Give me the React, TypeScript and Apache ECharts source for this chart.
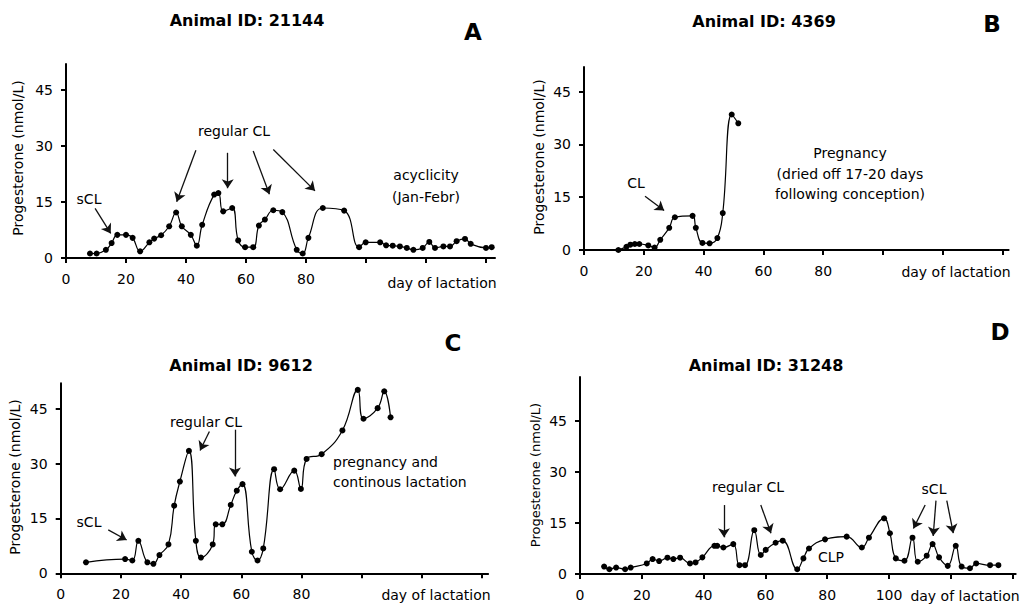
import React, { useEffect, useRef } from "react";
import * as echarts from "echarts";

// ---- tick values ----
const xTicks = [0, 20, 40, 60, 80, 100, 120, 140];
const yTicks = [0, 15, 30, 45];
const xLabelsABC = [0, 20, 40, 60, 80];
const xLabelsD = [0, 20, 40, 60, 80, 100];

// ---- Panel A: Animal 21144 ----
const daysA = [8, 10.2, 13.3, 15.2, 17.1, 20, 22.2, 24.7, 27.8, 29.4, 31.7, 34.4, 36.7, 38.6, 41.6, 43.6, 45.4, 49.4, 50.8, 52.4, 55.4, 57.4, 59.7, 62.4, 64.3, 66.3, 69.1, 72.1, 76.9, 78.9, 80.8, 85.6, 92.7, 97.7, 99.9, 104.7, 106.7, 108.9, 111.3, 113.6, 115.8, 118.9, 121.1, 123, 125.8, 128, 130.2, 133, 134.9, 140, 141.9];
const progA = [1.2, 1.2, 2.2, 4, 6.2, 6.2, 5.4, 1.8, 4.2, 5.2, 6.1, 8.5, 12.2, 8.5, 6.2, 3.3, 8.9, 17, 17.4, 12.5, 13.4, 4.7, 2.9, 2.9, 8.7, 10.3, 12.8, 12.3, 2.2, 1.2, 5.4, 13.4, 12.7, 2.9, 4.2, 4.2, 3.4, 3.3, 3.1, 2.7, 2.2, 2.7, 4.3, 2.7, 3.1, 3.1, 4.5, 5.1, 3.8, 2.7, 2.9];

// ---- Panel B: Animal 4369 ----
const daysB = [11.5, 14.2, 15.5, 17, 18.5, 21.5, 23.6, 25.5, 28.5, 30.4, 36.3, 37.4, 39.6, 42, 44.6, 46.4, 49.4, 51.6];
const progB = [0, 0.9, 1.5, 1.7, 1.7, 1.3, 0.7, 2.9, 6.3, 9.3, 9.7, 6.3, 2, 1.9, 3.4, 10.5, 38.5, 36];

// ---- Panel C: Animal 9612 ----
const daysC = [8.4, 21.4, 23.8, 25.8, 28.8, 30.8, 32.8, 35.8, 37.7, 39.6, 42.6, 44.9, 46.6, 50.5, 51.5, 53.7, 56.5, 58.5, 60.4, 63.5, 65.4, 67.3, 70.9, 72.9, 77.6, 79.8, 81.7, 86.7, 93.6, 98.7, 100.6, 105.3, 107.5, 109.6];
const progC = [3, 3.9, 3.5, 8.9, 3, 2.6, 5, 7.9, 18.5, 25.1, 33.5, 8.9, 4.3, 7.9, 13.4, 13.4, 18.7, 22.6, 24.4, 5.9, 3.5, 6.8, 28.5, 23, 28.1, 23.1, 31.3, 32.6, 39.1, 50.2, 42.3, 45.2, 49.8, 42.7];

// ---- Panel D: Animal 31248 ----
const daysD = [7.8, 9.5, 11.7, 14.6, 16.4, 21.6, 23.5, 25.6, 28.3, 30.2, 32.4, 35.6, 37.4, 39.6, 43.5, 44.4, 46.4, 49.6, 51.6, 53.4, 56.4, 58.5, 60.1, 63.3, 65.6, 70.3, 72.3, 74.1, 79.3, 86.3, 91.2, 93.5, 98.4, 100.3, 102.2, 105, 107.6, 109.3, 112.2, 114.1, 116.2, 119, 121.6, 123.5, 126.2, 128.2, 132.7, 135.4];
const progD = [2.2, 1.4, 1.9, 1.4, 1.9, 3.1, 4.4, 3.8, 4.8, 4.4, 4.8, 3.1, 3.4, 4.9, 8.3, 8.3, 7.8, 8.8, 2.6, 2.6, 12.9, 5.6, 7.1, 9.2, 9.8, 1.4, 4.6, 7.5, 10.2, 11, 7.8, 10.7, 16.4, 12, 4.6, 3.9, 10.7, 3.6, 5.4, 8.8, 4.9, 2.4, 8.3, 2.2, 1.7, 3.1, 2.6, 2.6];

// ---- annotation arrows (data units: x1, y1, x2, y2) ----
const arrowsA = [
  [9.7, 13.3, 14.9, 6.6],
  [43.3, 28.9, 36.9, 15.1],
  [53.9, 28.2, 53.9, 18.7],
  [62.4, 28.7, 67.8, 17.1],
  [69.1, 29.1, 83, 18],
];
const arrowsB = [[20.4, 15.3, 26.8, 11.2]];
const arrowsC = [
  [15.8, 11.9, 21.9, 9.1],
  [49.4, 38.8, 46.3, 33.6],
  [57.9, 39.3, 57.9, 26.5],
];
const arrowsD = [
  [46.6, 20.3, 46.6, 10.8],
  [58.5, 20.3, 61.8, 12.0],
  [111.7, 20.3, 107.9, 13.4],
  [115.2, 21.6, 114.3, 11.2],
  [118.7, 21.6, 120.8, 12.0],
];

const FONT = '"DejaVu Sans", Verdana, sans-serif';

function makeX(i: number, max: number, labels: number[]) {
  return {
    type: "value",
    gridIndex: i,
    min: 0,
    max,
    splitLine: { show: false },
    axisLine: { show: true, onZero: false, lineStyle: { color: "#000", width: 2 } },
    axisTick: { show: true, length: 5, inside: false, lineStyle: { color: "#000", width: 2 }, customValues: xTicks },
    axisLabel: {
      customValues: labels,
      margin: 14,
      fontSize: 14,
      fontFamily: FONT,
      color: "#000",
    },
  };
}

function makeY(i: number, max: number) {
  return {
    type: "value",
    gridIndex: i,
    min: 0,
    max,
    splitLine: { show: false },
    axisLine: { show: true, onZero: false, lineStyle: { color: "#000", width: 2 } },
    axisTick: { show: true, length: 5, inside: false, lineStyle: { color: "#000", width: 2 }, customValues: yTicks },
    axisLabel: {
      customValues: yTicks,
      margin: 13,
      fontSize: 14,
      fontFamily: FONT,
      color: "#000",
    },
  };
}

function makeSeries(i: number, days: number[], vals: number[], arrows: number[][]) {
  return {
    type: "line",
    xAxisIndex: i,
    yAxisIndex: i,
    data: days.map((d, k) => [d, vals[k]]),
    smooth: 0.45,
    symbol: "circle",
    symbolSize: 6,
    clip: false,
    itemStyle: { color: "#000" },
    lineStyle: { color: "#000", width: 1.2 },
    markLine: {
      silent: true,
      animation: false,
      symbol: ["none", "arrow"],
      symbolSize: 9,
      label: { show: false },
      lineStyle: { color: "#111", width: 1.3, type: "solid" },
      data: arrows.map((a) => [{ coord: [a[0], a[1]] }, { coord: [a[2], a[3]] }]),
    },
  };
}

function txt(x: number, y: number, text: string, size = 14, bold = false, align = "center", rotate = 0) {
  return {
    type: "text",
    x,
    y,
    rotation: rotate,
    silent: true,
    style: {
      text,
      fill: "#000",
      fontSize: size,
      fontWeight: bold ? "bold" : "normal",
      fontFamily: FONT,
      textAlign: align,
      textVerticalAlign: "middle",
      align,
      verticalAlign: "middle",
    },
  };
}

export default function App() {
  const ref = useRef<HTMLDivElement>(null);

  useEffect(() => {
    document.body.style.margin = "0";
    if (!ref.current) return;
    const chart = echarts.init(ref.current, undefined, { renderer: "svg" });
    const R = Math.PI / 2;
    chart.setOption({
      animation: false,
      backgroundColor: "#fff",
      grid: [
        { left: 66, top: 64, width: 429, height: 194 },
        { left: 584, top: 67, width: 424.6, height: 183 },
        { left: 60.7, top: 383.3, width: 427.4, height: 190 },
        { left: 580, top: 377, width: 435.7, height: 197 },
      ],
      xAxis: [makeX(0, 143, xLabelsABC), makeX(1, 142, xLabelsABC), makeX(2, 142, xLabelsABC), makeX(3, 141, xLabelsD)],
      yAxis: [makeY(0, 52), makeY(1, 52), makeY(2, 52), makeY(3, 58)],
      series: [
        makeSeries(0, daysA, progA, arrowsA),
        makeSeries(1, daysB, progB, arrowsB),
        makeSeries(2, daysC, progC, arrowsC),
        makeSeries(3, daysD, progD, arrowsD),
      ],
      graphic: [
        // titles
        txt(247, 20, "Animal ID: 21144", 16, true),
        txt(764, 21, "Animal ID: 4369", 16, true),
        txt(241, 365, "Animal ID: 9612", 16, true),
        txt(766, 365, "Animal ID: 31248", 16, true),
        // panel letters
        txt(473, 32, "A", 23, true),
        txt(992, 24, "B", 23, true),
        txt(453, 343, "C", 23, true),
        txt(1000, 332, "D", 23, true),
        // y axis names
        txt(18, 158, "Progesterone (nmol/L)", 14, false, "center", R),
        txt(539, 157, "Progesterone (nmol/L)", 14, false, "center", R),
        txt(15, 477, "Progesterone (nmol/L)", 14, false, "center", R),
        txt(535, 475, "Progesterone (nmol/L)", 13, false, "center", R),
        // x axis names
        txt(442, 283, "day of lactation"),
        txt(956, 272, "day of lactation"),
        txt(436, 595, "day of lactation"),
        txt(965, 596, "day of lactation"),
        // annotations A
        txt(89, 199, "sCL"),
        txt(234, 131, "regular CL"),
        txt(426, 175, "acyclicity"),
        txt(426, 197, "(Jan-Febr)"),
        // annotations B
        txt(636, 183, "CL"),
        txt(850, 153, "Pregnancy"),
        txt(850, 174, "(dried off 17-20 days"),
        txt(850, 194, "following conception)"),
        // annotations C
        txt(89, 522, "sCL"),
        txt(206, 422, "regular CL"),
        txt(333, 462, "pregnancy and", 14, false, "left"),
        txt(333, 482, "continous lactation", 14, false, "left"),
        // annotations D
        txt(748, 487, "regular CL"),
        txt(934, 489, "sCL"),
        txt(831, 557, "CLP"),
      ],
    });
    return () => chart.dispose();
  }, []);

  return <div ref={ref} style={{ width: 1020, height: 607 }} />;
}
